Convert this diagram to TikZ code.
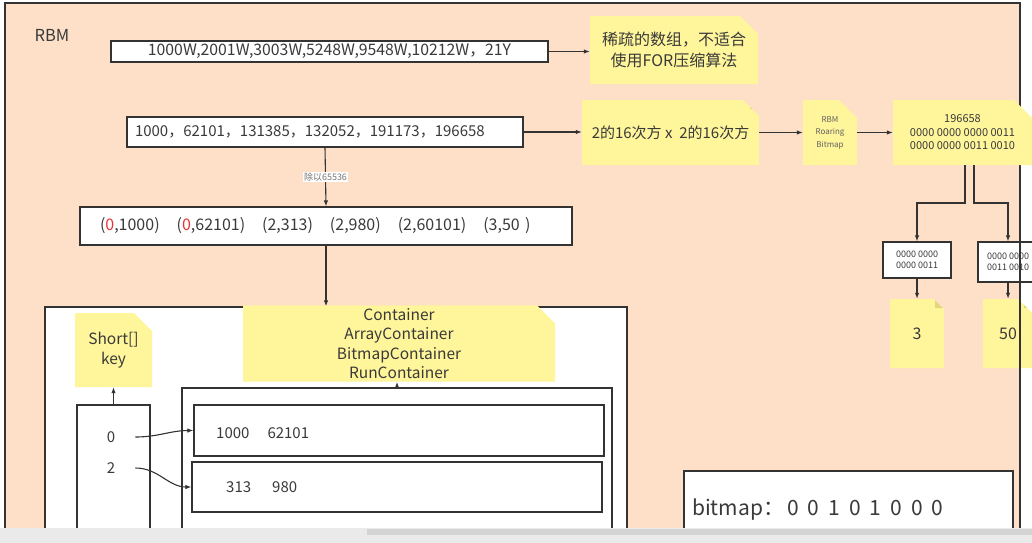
\documentclass[tikz,border=0pt]{standalone}
\usepackage{fontspec}
\setmainfont{Noto Sans CJK SC}
\usepackage{xcolor}
\usepackage{tikz}
\usetikzlibrary{shapes.misc, arrows.meta, calc}
\definecolor{rbmpeach}{RGB}{253,224,199}
\definecolor{noteyellow}{RGB}{255,245,155}
\definecolor{notefold}{RGB}{224,214,126}
\definecolor{linegray}{RGB}{51,51,51}
\definecolor{textgray}{RGB}{58,58,58}
\definecolor{keyred}{RGB}{232,52,52}
\definecolor{barlight}{RGB}{234,234,234}
\definecolor{bardark}{RGB}{212,212,212}
\newcommand{\bitgap}{\hspace{9pt}}
\tikzset{
    cell/.style={draw=linegray, line width=1.2pt, fill=white, inner sep=0pt, text=textgray, align=center},
    note/.style={chamfered rectangle, chamfered rectangle corners=north east,
        chamfered rectangle xsep=9pt, chamfered rectangle ysep=9pt,
        fill=noteyellow, inner sep=0pt, text=textgray, align=center,
        path picture={\fill[notefold] ($(path picture bounding box.north east)+(-9pt,0)$) -- ++(0,-9pt) -- ++(9pt,0) -- cycle;}},
    link/.style={draw=linegray, line width=1.1pt, -{Latex[length=6pt,width=4.5pt]}},
}

\begin{document}
    \begin{tikzpicture}[x=1pt, y=-1pt]
        \useasboundingbox (0,0) rectangle (1032,542);
        \fill[rbmpeach] (5,3) rectangle (1020,560);
        \node[anchor=west, text=textgray, font=\fontsize{16.5}{18}\selectfont] (rbm) at (31,35) {RBM};

        % raw values
        \node[cell, minimum width=437pt, minimum height=21pt, font=\fontsize{15.8}{17}\selectfont] (wan) at (329.5,51.5) {1000W,2001W,3003W,5248W,9548W,10212W，21Y};
        \node[note, minimum width=168pt, minimum height=68pt, font=\fontsize{16}{21}\selectfont] (sparse) at (674,50) {稀疏的数组，不适合\\使用FOR压缩算法};
        \draw[link] (wan.east) -- (wan.east -| sparse.west);

        \node[cell, minimum width=396pt, minimum height=30pt, text width=380pt, align=left, font=\fontsize{15}{17}\selectfont] (nums) at (325,132) {1000，62101，131385，132052，191173，196658};
        \node[note, minimum width=177pt, minimum height=65pt, font=\fontsize{15}{18}\selectfont] (space) at (670.5,132.5) {2的16次方 x \ 2的16次方};
        \node[note, minimum width=54pt, minimum height=65pt, text=textgray!80, font=\fontsize{8}{12.5}\selectfont] (roar) at (830,132.5) {RBM\\Roaring\\Bitmap};
        \draw[link] (nums.east) -- (nums.east -| space.west);
        \draw[link] (space.east) -- (space.east -| roar.west);

        % high and low 16 bits
        \node[cell, minimum width=68pt, minimum height=36pt, font=\fontsize{9}{11}\selectfont] (high) at (917,260) {0000 0000\\0000 0011};
        \node[cell, minimum width=60pt, minimum height=40pt, font=\fontsize{9}{11}\selectfont] (low) at (1008,262) {0000 0000\\0011 0010};
        \node[note, minimum width=54pt, minimum height=69pt, font=\fontsize{16}{18}\selectfont] (hval) at (917,333.5) {3};
        \node[note, minimum width=50pt, minimum height=69pt, font=\fontsize{16}{18}\selectfont] (lval) at (1008,333.5) {50};
        \draw[link] (high.south) -- (hval.north);
        \draw[link] (low.south) -- (lval.north);

        % key / value pairs
        \node[cell, minimum width=492pt, minimum height=38pt, text width=452pt, align=left, font=\fontsize{16}{18}\selectfont] (pairs) at (326,226)
            {(\textcolor{keyred}{0},1000)\hspace{17pt}(\textcolor{keyred}{0},62101)\hspace{17pt}(2,313)\hspace{17pt}(2,980)\hspace{17pt}(2,60101)\hspace{17pt}(3,50 )};
        \draw[link] (nums.south) -- node[midway, fill=white, text=textgray!70, inner sep=1pt, font=\fontsize{9}{10}\selectfont] (divide) {除以65536} (pairs.north);

        % containers
        \node[cell, minimum width=582pt, minimum height=253pt] (store) at (336,433.5) {};
        \draw[link] (pairs.south) -- (pairs.south |- store.north);
        \node[note, minimum width=312pt, minimum height=73pt, inner ysep=-6pt, font=\fontsize{15.5}{19.4}\selectfont] (kinds) at (399,343.5) {Container\\ArrayContainer\\BitmapContainer\\RunContainer};
        \node[note, minimum width=77pt, minimum height=74pt, font=\fontsize{15.5}{20}\selectfont] (keynote) at (113.5,350) {Short[]\\key};
        \node[cell, minimum width=73pt, minimum height=155pt] (keys) at (113.5,482.5) {};
        \node[cell, minimum width=430pt, minimum height=172pt] (inner) at (397,474) {};
        \draw[link] (keys.north) -- (keynote.south);
        \draw[link] (inner.north) -- (inner.north |- kinds.south);
        \node[cell, minimum width=410pt, minimum height=51pt] (rowa) at (399,430.5) {};
        \node[cell, minimum width=410pt, minimum height=50pt] (rowb) at (397,487) {};
        \node[anchor=west, text=textgray, inner sep=0pt, font=\fontsize{15}{17}\selectfont] (vala) at (216,433) {1000\hspace{18pt}62101};
        \node[anchor=west, text=textgray, inner sep=0pt, font=\fontsize{15}{17}\selectfont] (valb) at (226,487) {313\hspace{21pt}980};
        \node[text=textgray, inner sep=0pt, font=\fontsize{15}{17}\selectfont] (keya) at (111,437) {0};
        \node[text=textgray, inner sep=0pt, font=\fontsize{15}{17}\selectfont] (keyb) at (111,468) {2};
        \draw[link] ($(keya.east)+(20pt,0)$) to[out=0, in=180] (rowa.west);
        \draw[link] ($(keyb.east)+(20pt,0)$) to[out=0, in=180] (rowb.west);

        % bitmap
        \node[cell, minimum width=329pt, minimum height=89pt] (bits) at (848.5,515.5) {};
        \node[anchor=west, text=textgray, inner sep=0pt, font=\fontsize{21}{23}\selectfont] (bitrow) at (692,510) {bitmap：\hspace{3pt}0\bitgap0\bitgap1\bitgap0\bitgap1\bitgap0\bitgap0\bitgap0};

        \draw[linegray, line width=1.2pt] (5,3) rectangle (1020,560);

        % split note lies over the frame
        \node[note, minimum width=139pt, minimum height=65pt, font=\fontsize{11}{13.5}\selectfont] (split) at (962.5,132.5) {196658\\0000 0000 0000 0011\\0000 0000 0011 0010};
        \draw[link] (roar.east) -- (roar.east -| split.west);
        \coordinate (fork) at (0,203);
        \draw[link] ([xshift=2.5pt]split.south) |- (fork -| high.north) -- (high.north);
        \draw[link] ([xshift=11.5pt]split.south) |- (fork -| low.north) -- (low.north);

        \fill[barlight] (-5,528) rectangle (1040,552);
        \fill[bardark] (367,529) rectangle (1040,535);
    \end{tikzpicture}
\end{document}
